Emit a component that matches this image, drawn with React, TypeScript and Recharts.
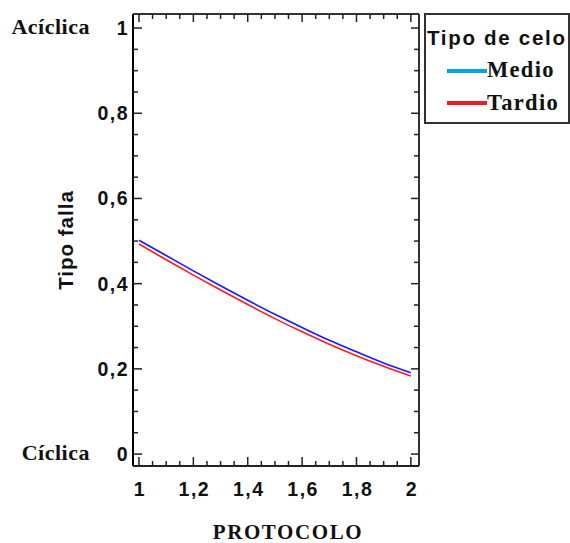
import React from 'react';
import { LineChart, Line, XAxis, YAxis, Legend, Label } from 'recharts';

const protocolo = [1, 1.1, 1.2, 1.3, 1.4, 1.5, 1.6, 1.7, 1.8, 1.9, 2];
const medio = [0.502, 0.466, 0.43, 0.395, 0.361, 0.328, 0.297, 0.267, 0.24, 0.214, 0.191];
const tardio = [0.493, 0.456, 0.42, 0.385, 0.351, 0.318, 0.287, 0.258, 0.231, 0.206, 0.183];

const xTicks = [1, 1.05, 1.1, 1.15, 1.2, 1.25, 1.3, 1.35, 1.4, 1.45, 1.5, 1.55, 1.6, 1.65, 1.7, 1.75, 1.8, 1.85, 1.9, 1.95, 2];
const xMajor = [1, 1.2, 1.4, 1.6, 1.8, 2];
const yTicks = [0, 0.05, 0.1, 0.15, 0.2, 0.25, 0.3, 0.35, 0.4, 0.45, 0.5, 0.55, 0.6, 0.65, 0.7, 0.75, 0.8, 0.85, 0.9, 0.95, 1];
const yMajor = [0, 0.2, 0.4, 0.6, 0.8, 1];
const yCategoryValues = [0, 1];
const yCategoryLabels = ['Cíclica', 'Acíclica'];

const seriesKeys = ['medio', 'tardio'];
const seriesNames = ['Medio', 'Tardio'];
const lineColors = ['#1818ff', '#ff1a1a'];
const legendColors = ['#00a2e8', '#ed1c24'];

const data = protocolo.map((p, i) => ({ x: p, medio: medio[i], tardio: tardio[i] }));

const SANS = '"Liberation Sans", Arial, sans-serif';
const SERIF = '"Liberation Serif", "Times New Roman", serif';
const AXIS = '#222';

const isIn = (v: number, list: number[]) => list.some((m) => Math.abs(m - v) < 1e-6);
const fmt = (v: number) => (Math.abs(v - Math.round(v)) < 1e-6 ? String(Math.round(v)) : v.toFixed(1).replace('.', ','));

const BottomTick = (p: any) => {
  const { x, y, payload } = p;
  const v = payload.value;
  const major = isIn(v, xMajor);
  return (
    <g>
      <line x1={x} x2={x} y1={y} y2={y - (major ? 9 : 5)} stroke={AXIS} strokeWidth={1.5} />
      {major && (
        <text x={x + 1} y={y + 30} textAnchor="middle" fontFamily={SANS} fontWeight="bold" fontSize={19.5} letterSpacing={1.5} fill="#111">
          {fmt(v)}
        </text>
      )}
    </g>
  );
};

const TopTick = (p: any) => {
  const { x, y, payload } = p;
  const major = isIn(payload.value, xMajor);
  return <line x1={x} x2={x} y1={y} y2={y + (major ? 8 : 5)} stroke={AXIS} strokeWidth={1.5} />;
};

const LeftTick = (p: any) => {
  const { x, y, payload } = p;
  const v = payload.value;
  const major = isIn(v, yMajor);
  const ci = yCategoryValues.findIndex((c) => Math.abs(c - v) < 1e-6);
  return (
    <g>
      <line x1={x} x2={x + (major ? 9 : 5)} y1={y} y2={y} stroke={AXIS} strokeWidth={1.5} />
      {major && (
        <text x={x - 4} y={y + 7} textAnchor="end" fontFamily={SANS} fontWeight="bold" fontSize={19.5} letterSpacing={1.5} fill="#111">
          {fmt(v)}
        </text>
      )}
      {ci >= 0 && (
        <text x={90} y={y + 6} textAnchor="end" fontFamily={SERIF} fontWeight="bold" fontSize={22} letterSpacing={0.5} fill="#111">
          {yCategoryLabels[ci]}
        </text>
      )}
    </g>
  );
};

const RightTick = (p: any) => {
  const { x, y, payload } = p;
  const major = isIn(payload.value, yMajor);
  return <line x1={x} x2={x - (major ? 8 : 5)} y1={y} y2={y} stroke={AXIS} strokeWidth={1.5} />;
};

const LegendBox = () => (
  <svg width={146} height={112} style={{ display: 'block' }}>
    <rect x={1} y={1} width={144} height={109} fill="#fff" stroke="#333" strokeWidth={2} />
    <text x={3} y={32} fontFamily={SANS} fontWeight="bold" fontSize={20.5} letterSpacing={1.7} fill="#111">
      Tipo de celo
    </text>
    {seriesNames.map((n, i) => (
      <g key={n}>
        <line x1={23} x2={63} y1={58 + i * 32} y2={58 + i * 32} stroke={legendColors[i]} strokeWidth={4} />
        <text x={63} y={64 + i * 33} fontFamily={SERIF} fontWeight="bold" fontSize={22.5} letterSpacing={1.3} fill="#111">
          {n}
        </text>
      </g>
    ))}
  </svg>
);

export default function App() {
  return (
    <div style={{ position: 'absolute', left: 0, top: 0, background: '#fff' }}>
      <LineChart width={570} height={543} data={data} margin={{ top: 13, right: 150, bottom: 0, left: 0 }}>
        <XAxis
          xAxisId="b"
          dataKey="x"
          type="number"
          orientation="bottom"
          domain={[0.978, 2.03]}
          ticks={xTicks}
          interval={0}
          allowDataOverflow
          height={77}
          tickSize={0}
          tickMargin={0}
          tickLine={false}
          axisLine={{ stroke: AXIS, strokeWidth: 2 }}
          tick={<BottomTick />}
        >
          <Label
            content={() => (
              <text x={288} y={539} textAnchor="middle" fontFamily={SERIF} fontWeight="bold" fontSize={21} letterSpacing={1.6} fill="#111">
                PROTOCOLO
              </text>
            )}
          />
        </XAxis>
        <XAxis
          xAxisId="t"
          dataKey="x"
          type="number"
          orientation="top"
          domain={[0.978, 2.03]}
          ticks={xTicks}
          interval={0}
          allowDataOverflow
          height={1}
          tickSize={0}
          tickMargin={0}
          tickLine={false}
          axisLine={{ stroke: '#333', strokeWidth: 2 }}
          tick={<TopTick />}
        />
        <YAxis
          yAxisId="l"
          type="number"
          orientation="left"
          domain={[-0.028, 1.033]}
          ticks={yTicks}
          interval={0}
          allowDataOverflow
          width={133}
          tickSize={0}
          tickMargin={0}
          tickLine={false}
          axisLine={{ stroke: '#000', strokeWidth: 2 }}
          tick={<LeftTick />}
        >
          <Label
            content={() => (
              <text x={73} y={240} transform="rotate(-90 73 240)" textAnchor="middle" fontFamily={SANS} fontWeight="bold" fontSize={20.5} letterSpacing={1} fill="#111">
                Tipo falla
              </text>
            )}
          />
        </YAxis>
        <YAxis
          yAxisId="r"
          type="number"
          orientation="right"
          domain={[-0.028, 1.033]}
          ticks={yTicks}
          interval={0}
          allowDataOverflow
          width={1}
          tickSize={0}
          tickMargin={0}
          tickLine={false}
          axisLine={{ stroke: '#333', strokeWidth: 2 }}
          tick={<RightTick />}
        />
        {seriesKeys.map((k, i) => (
          <Line
            key={k}
            xAxisId="b"
            yAxisId="l"
            dataKey={k}
            name={seriesNames[i]}
            stroke={lineColors[i]}
            strokeWidth={1.6}
            dot={false}
            type="monotone"
            isAnimationActive={false}
          />
        ))}
        <Legend
          layout="horizontal"
          verticalAlign="middle"
          align="center"
          content={<LegendBox />}
          wrapperStyle={{ left: 424, top: 13, width: 146, height: 112 }}
        />
      </LineChart>
    </div>
  );
}
